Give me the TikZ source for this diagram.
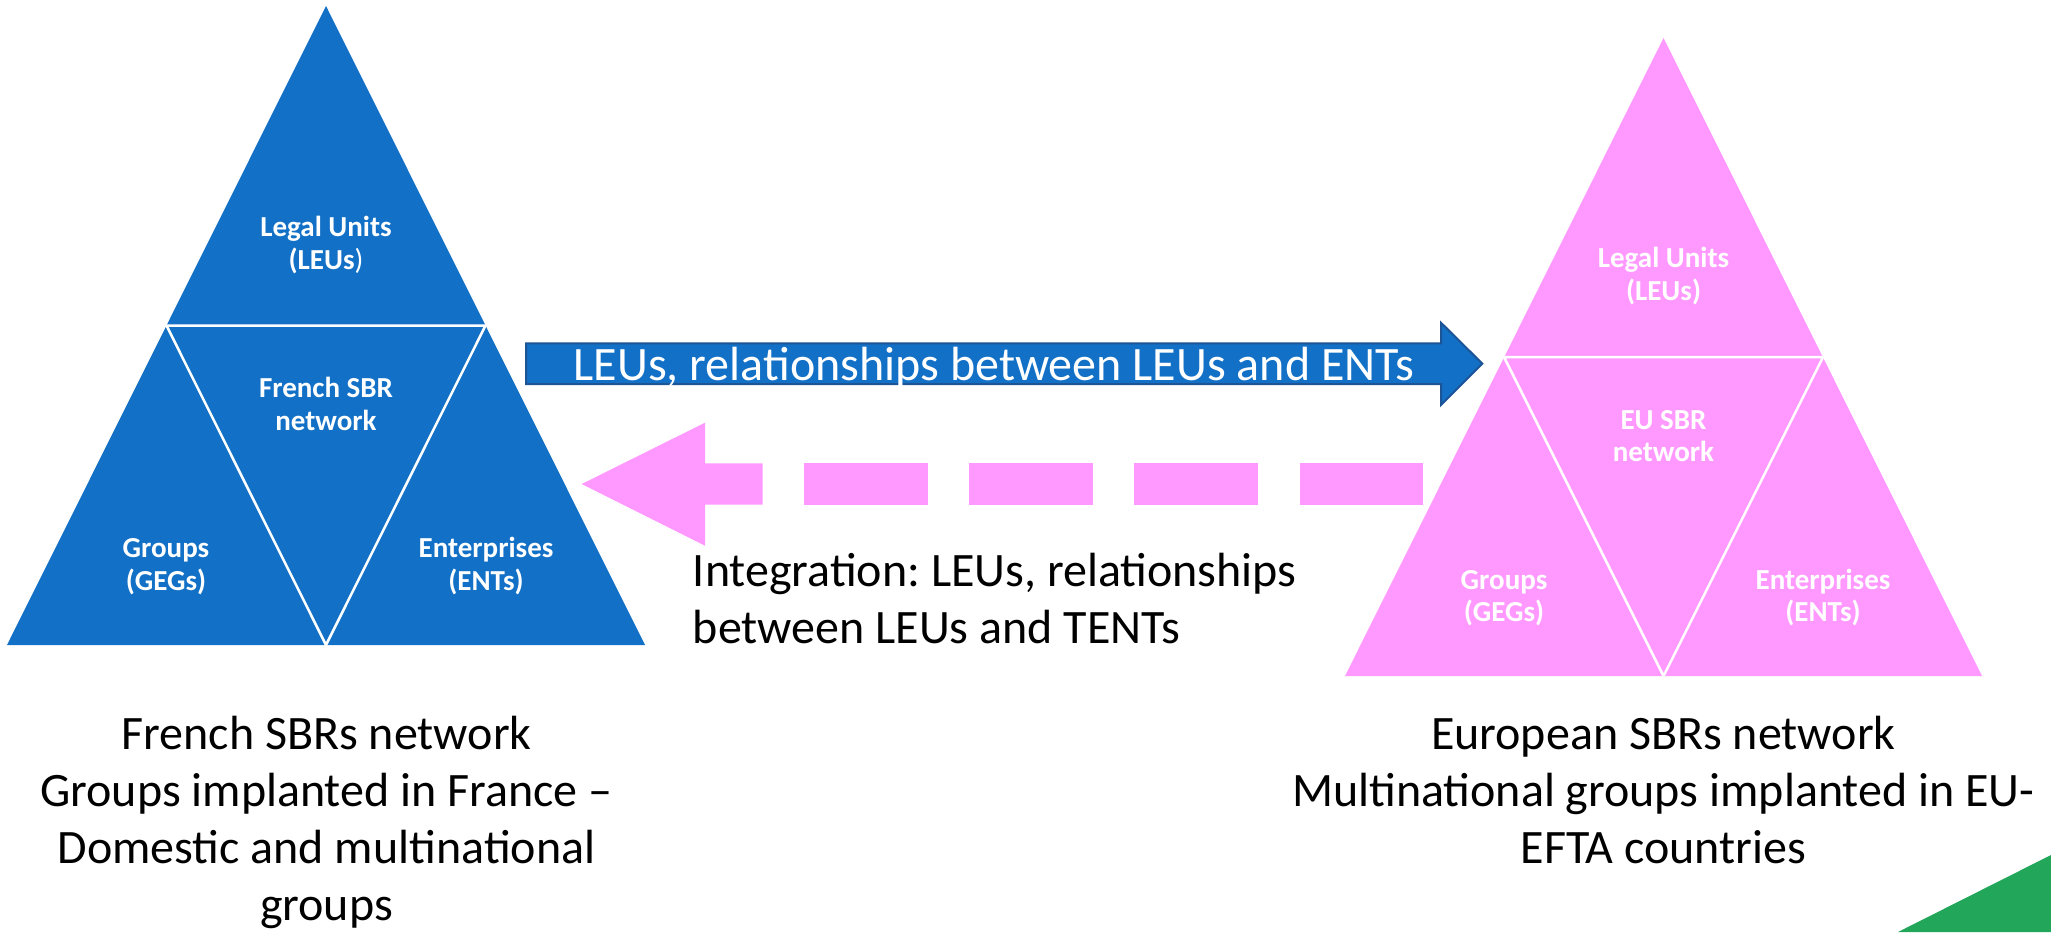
\documentclass[tikz,border=0pt]{standalone}
\usepackage{fontspec}
\setmainfont{Carlito}
\frenchspacing
\definecolor{fblue}{RGB}{18,112,198}
\definecolor{fborder}{RGB}{28,84,150}
\definecolor{epink}{RGB}{255,153,255}
\definecolor{cgreen}{RGB}{33,166,90}
\begin{document}
\begin{tikzpicture}[x=1pt,y=-1pt,
  sepline/.style={draw=white,line width=2.5pt,line join=miter},
  lbl/.style={text=white,font=\bfseries\fontsize{29}{32.5}\selectfont,align=center,anchor=base,inner sep=0pt},
  arrtext/.style={text=white,font=\fontsize{48}{56}\selectfont,anchor=base,inner sep=0pt},
  captext/.style={text=black,font=\fontsize{48}{57}\selectfont,align=center,anchor=base,inner sep=0pt},
  inttext/.style={text=black,font=\fontsize{48}{56.7}\selectfont,align=left,anchor=base west,inner sep=0pt}]
\useasboundingbox (0,0) rectangle (2051,932);

% (multi-line nodes are placed by the baseline of their last line)

% ---- left (French) triangle ----
\coordinate (LA) at (326,6);
\coordinate (LBL) at (7,645);
\coordinate (LBR) at (645,645);
\coordinate (LML) at (166.5,325.5);
\coordinate (LMR) at (485.5,325.5);
\coordinate (LBM) at (326,645);
\fill[fblue] (LA) -- (LBR) -- (LBL) -- cycle;
\draw[sepline] (LML) -- (LMR) -- (LBM) -- cycle;
\node[lbl] (lleu) at (326,269) {Legal Units\\(LEUs{\mdseries)}};
\node[lbl] (lsbr) at (326,430) {French SBR\\network};
\node[lbl] (lgeg) at (166,590) {Groups\\(GEGs)};
\node[lbl] (lent) at (486,590) {Enterprises\\(ENTs)};

% ---- right (EU) triangle ----
\coordinate (RA) at (1663.5,38);
\coordinate (RBL) at (1345,676);
\coordinate (RBR) at (1982,676);
\coordinate (RML) at (1504,357);
\coordinate (RMR) at (1823,357);
\coordinate (RBM) at (1663.5,676);
\fill[epink] (RA) -- (RBR) -- (RBL) -- cycle;
\draw[sepline] (RML) -- (RMR) -- (RBM) -- cycle;
\node[lbl] (rleu) at (1663.5,300.3) {Legal Units\\(LEUs)};
\node[lbl] (rsbr) at (1663.5,461.7) {EU SBR\\network};
\node[lbl] (rgeg) at (1504,621.7) {Groups\\(GEGs)};
\node[lbl] (rent) at (1823,621.7) {Enterprises\\(ENTs)};

% ---- blue block arrow ----
\coordinate (b1) at (526,343.3);
\coordinate (b2) at (1441,343.3);
\coordinate (b3) at (1441,322.7);
\coordinate (b4) at (1482.3,363.6);
\coordinate (b5) at (1441,405);
\coordinate (b6) at (1441,384);
\coordinate (b7) at (526,384);
\filldraw[fill=fblue,draw=fborder,line width=2pt,line join=miter]
  (b1) -- (b2) -- (b3) -- (b4) -- (b5) -- (b6) -- (b7) -- cycle;
\node[arrtext] (btext) at (994,380) {LEUs, relationships between LEUs and ENTs};

% ---- pink dashed block arrow ----
\coordinate (p1) at (581.7,484);
\coordinate (p2) at (705,422.7);
\coordinate (p3) at (705,463.3);
\coordinate (p4) at (762.7,463.3);
\coordinate (p5) at (762.7,504.7);
\coordinate (p6) at (705,504.7);
\coordinate (p7) at (705,545.7);
\fill[epink] (p1) -- (p2) -- (p3) -- (p4) -- (p5) -- (p6) -- (p7) -- cycle;
\foreach \xa/\xb in {804/927.7, 969.3/1092.7, 1134.3/1258.3, 1299.7/1423.3}
  \fill[epink] (\xa,463.3) rectangle (\xb,504.7);
\node[inttext] (itext) at (692.7,643.3) {Integration: LEUs, relationships\\between LEUs and TENTs};

% ---- captions ----
\node[captext] (lcap) at (326.5,920.3) {French SBRs network\\Groups implanted in France --\\Domestic and multinational\\groups};
\node[captext] (rcap) at (1663.3,863.4) {European SBRs network\\Multinational groups implanted in EU-\\EFTA countries};

% ---- green corner ----
\coordinate (g1) at (1898,932);
\coordinate (g2) at (2051,855);
\coordinate (g3) at (2051,932);
\fill[cgreen] (g1) -- (g2) -- (g3) -- cycle;
\end{tikzpicture}
\end{document}
